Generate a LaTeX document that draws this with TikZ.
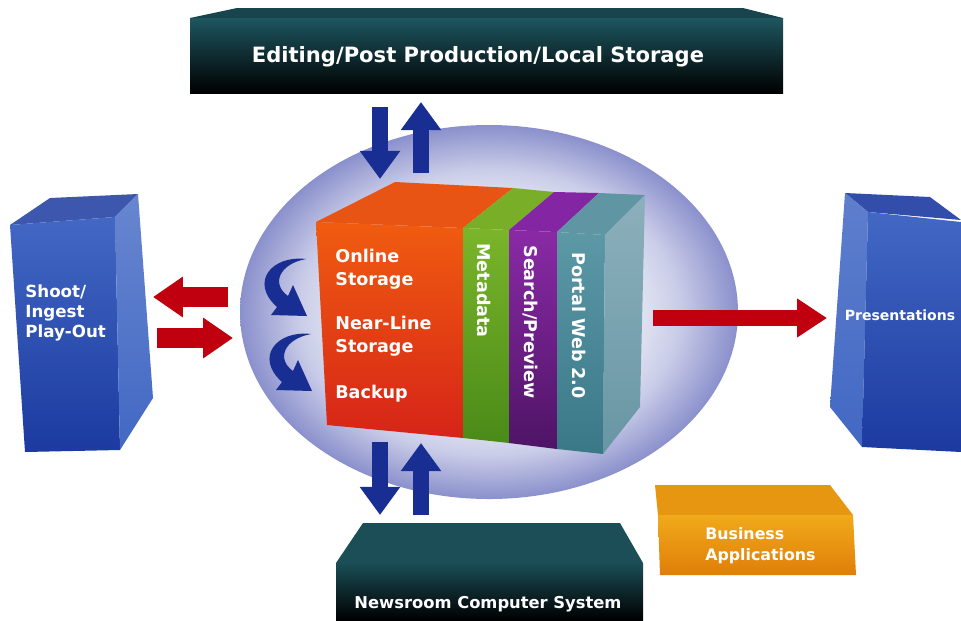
\documentclass[tikz,border=0pt]{standalone}
\usepackage{fontspec}
\setmainfont{DejaVu Sans}
\usetikzlibrary{arrows.meta}
\definecolor{orbrim}{RGB}{138,144,204}
\colorlet{orbmid}{orbrim!45!white}
\definecolor{arrblue}{RGB}{24,46,146}
\definecolor{arrred}{RGB}{192,0,14}
\definecolor{boxblue}{RGB}{66,104,196}
\definecolor{boxdeep}{RGB}{28,58,160}
\definecolor{nightteal}{RGB}{30,86,96}
\definecolor{onlinetop}{RGB}{232,84,20}
\definecolor{onlinehi}{RGB}{240,92,16}
\definecolor{onlinelo}{RGB}{214,36,24}
\definecolor{metatop}{RGB}{120,174,40}
\definecolor{metahi}{RGB}{122,181,42}
\definecolor{metalo}{RGB}{74,138,24}
\definecolor{searchtop}{RGB}{132,38,164}
\definecolor{searchhi}{RGB}{138,42,166}
\definecolor{searchlo}{RGB}{78,20,102}
\definecolor{portaltop}{RGB}{96,150,164}
\definecolor{portalhi}{RGB}{92,152,166}
\definecolor{portallo}{RGB}{58,120,136}
\definecolor{portalsidehi}{RGB}{140,176,188}
\definecolor{portalsidelo}{RGB}{104,150,164}
\definecolor{biztop}{RGB}{230,150,16}
\definecolor{bizhi}{RGB}{240,170,26}
\definecolor{bizlo}{RGB}{224,126,10}
\pgfdeclareradialshading{orb}{\pgfpoint{0bp}{0bp}}{color(0bp)=(white); color(10bp)=(white); color(19bp)=(orbmid); color(25bp)=(orbrim); color(50bp)=(orbrim)}

\begin{document}
\begin{tikzpicture}[x=0.02cm,y=-0.02cm,
  font=\bfseries\fontsize{9.5}{11.3}\selectfont,
  lbl/.style={text=white, align=left, inner sep=0pt, anchor=base west},
  ttl/.style={text=white, inner sep=0pt, anchor=base},
  strip/.style={text=white, inner sep=0pt, rotate=-90, anchor=west, font=\bfseries\fontsize{10}{12}\selectfont},
  bluearr/.style={draw=arrblue, line width=9.5pt, -{Triangle[length=16pt,width=22pt]}},
  redarr/.style={draw=arrred, line width=11.5pt, -{Triangle[length=17pt,width=22pt]}}]
\fill[white] (0,0) rectangle (961,620);
\useasboundingbox (0,0) rectangle (961,620);

% sphere round the storage block
\shade[shading=orb] (489,312) ellipse [x radius=249, y radius=187];

% storage block
\fill[onlinetop] (316,222) -- (395,182) -- (513,188) -- (463,228) -- cycle;
\fill[metatop] (463,228) -- (513,188) -- (554,192) -- (509,230) -- cycle;
\fill[searchtop] (509,230) -- (554,192) -- (599,193) -- (557,232) -- cycle;
\fill[portaltop] (557,232) -- (599,193) -- (645,195) -- (605,235) -- cycle;
\shade[top color=onlinehi, bottom color=onlinelo] (316,222) -- (463,228) -- (463,438) -- (327,425) -- cycle;
\shade[top color=metahi, bottom color=metalo] (463,228) -- (509,230) -- (509,443) -- (463,438) -- cycle;
\shade[top color=searchhi, bottom color=searchlo] (509,230) -- (557,232) -- (557,449) -- (509,443) -- cycle;
\shade[top color=portalhi, bottom color=portallo] (557,232) -- (605,235) -- (603,454) -- (557,449) -- cycle;
\shade[top color=portalsidehi, bottom color=portalsidelo] (605,235) -- (645,195) -- (640,407) -- (603,454) -- cycle;

\node[lbl, font=\bfseries\fontsize{10}{12.6}\selectfont] (online) at (335,285) {Online\\Storage};
\node[lbl, font=\bfseries\fontsize{10}{12.6}\selectfont] (nearline) at (335,352) {Near-Line\\Storage};
\node[lbl, font=\bfseries\fontsize{10}{12}\selectfont] (backup) at (335,398) {Backup};
\node[strip] (meta) at (484,243) {Metadata};
\node[strip] (search) at (530,245) {Search/Preview};
\node[strip] (portal) at (579,252) {Portal Web 2.0};

% hook arrows between the tiers
\foreach \dx/\dy in {0/0,5/75}
  \fill[arrblue, shift={(\dx,\dy)}] (306,259) .. controls (272,255) and (249,282) .. (277,307)
    -- (271,315) -- (307,316) -- (293,285) -- (288,296)
    .. controls (271,284) and (279,264) .. (306,259) -- cycle;

% editing box
\fill[nightteal!80!black] (237,8) -- (743,8) -- (783,18) -- (190,18) -- cycle;
\shade[top color=nightteal, bottom color=black] (190,18) rectangle (783,93);
\node[ttl, font=\bfseries\fontsize{12}{14}\selectfont] (edit) at (478,62) {Editing/Post Production/Local Storage};

% newsroom box
\fill[nightteal!90!black] (363,523) -- (620,523) -- (643,563) -- (336,563) -- cycle;
\shade[top color=nightteal!90!black, bottom color=black] (336,563) rectangle (643,620);
\node[ttl, font=\bfseries\fontsize{9.3}{11}\selectfont] (news) at (488,608) {Newsroom Computer System};

% shoot box
\fill[boxdeep!85!white] (10,225) -- (50,198) -- (138,194) -- (115,217) -- cycle;
\shade[top color=boxblue, bottom color=boxdeep] (10,225) -- (115,217) -- (120,450) -- (25,452) -- cycle;
\shade[top color=boxblue!80!white, bottom color=boxblue] (115,217) -- (138,194) -- (153,398) -- (120,450) -- cycle;
\node[lbl] (shoot) at (25,337) {Shoot/\\Ingest\\Play-Out};

% presentations box
\fill[boxdeep!90!white] (845,193) -- (930,197) -- (961,220) -- (868,212) -- cycle;
\shade[top color=boxblue!85!white, bottom color=boxblue] (845,193) -- (868,212) -- (862,447) -- (830,407) -- cycle;
\shade[top color=boxblue, bottom color=boxdeep] (868,212) -- (961,222) -- (961,452) -- (862,447) -- cycle;
\node[ttl, font=\bfseries\fontsize{8}{10}\selectfont] (pres) at (900,320) {Presentations};

% business box
\fill[biztop] (655,485) -- (830,485) -- (853,515) -- (658,515) -- cycle;
\shade[top color=bizhi, bottom color=bizlo] (658,515) -- (853,515) -- (856,575) -- (660,575) -- cycle;
\node[lbl, font=\bfseries\fontsize{9}{11.9}\selectfont] (biz) at (705,560) {Business\\Applications};

% block arrows
\coordinate (editdn0) at (380,107); \coordinate (editdn1) at (380,179);
\coordinate (editup0) at (421,173); \coordinate (editup1) at (421,102);
\coordinate (newsdn0) at (380,442); \coordinate (newsdn1) at (380,515);
\coordinate (newsup0) at (421,515); \coordinate (newsup1) at (421,443);
\coordinate (shootin0) at (228,297); \coordinate (shootin1) at (153,297);
\coordinate (shootout0) at (157,338); \coordinate (shootout1) at (233,338);
\coordinate (pres0) at (653,318); \coordinate (pres1) at (827,318);
\draw[bluearr] (editdn0) -- (editdn1);
\draw[bluearr] (editup0) -- (editup1);
\draw[bluearr] (newsdn0) -- (newsdn1);
\draw[bluearr] (newsup0) -- (newsup1);
\draw[redarr] (shootin0) -- (shootin1);
\draw[redarr] (shootout0) -- (shootout1);
\draw[redarr, line width=9.6pt, -{Triangle[length=17pt,width=21pt]}] (pres0) -- (pres1);
\end{tikzpicture}
\end{document}
